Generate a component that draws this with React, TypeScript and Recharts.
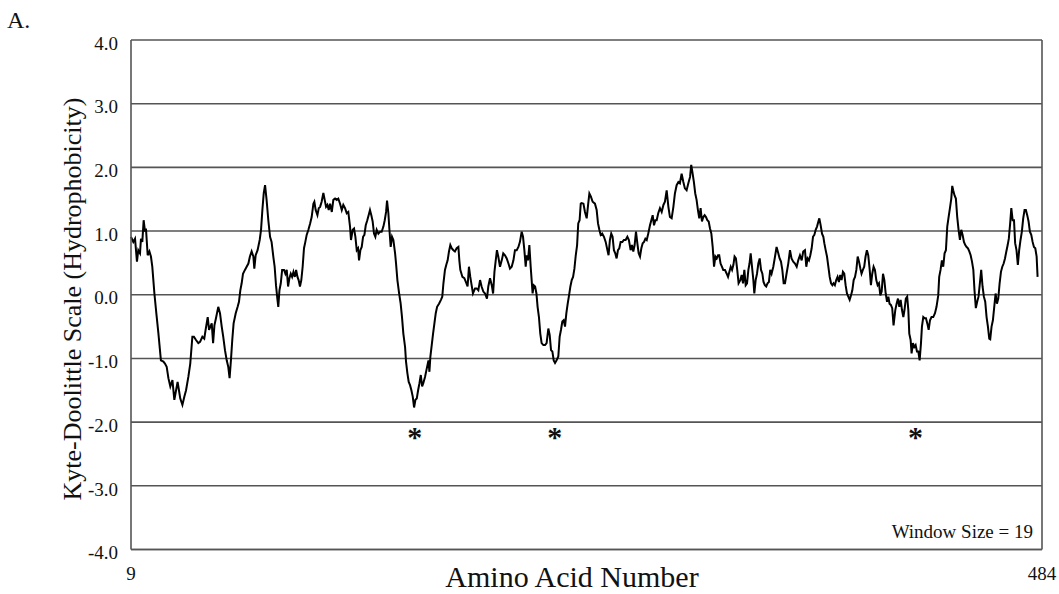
import React from "react"
import { LineChart, Line, XAxis, YAxis, CartesianGrid, ReferenceLine, ReferenceDot } from "recharts"

// residue positions (window centre) and Kyte-Doolittle scores
const residue = [
  9.0, 10.2, 11.1, 12.1, 12.8, 13.7, 14.2, 14.9, 15.6, 16.3, 16.8, 17.7, 18.6, 19.4, 20.1, 21.2, 22.2, 23.3, 24.6, 25.9,
  26.7, 27.6, 28.5, 29.5, 30.6, 31.6, 32.5, 33.3, 34.0, 34.7, 35.8, 36.8, 37.7, 38.9, 39.9, 41.0, 41.8, 42.9, 44.1, 45.0,
  46.2, 47.2, 47.9, 49.0, 49.7, 50.4, 51.1, 51.8, 52.5, 53.3, 54.5, 55.4, 56.3, 57.1, 58.0, 58.9, 59.7, 60.4, 61.1, 61.8,
  62.5, 63.6, 64.6, 65.3, 66.0, 66.7, 67.4, 68.4, 69.3, 70.2, 71.0, 71.9, 72.8, 73.3, 74.0, 75.0, 76.1, 76.8, 77.5, 78.2,
  78.9, 79.7, 80.6, 81.5, 82.3,
  83.2, 83.9, 84.6, 85.3, 85.8, 86.4, 87.1, 87.8, 88.8, 89.5, 90.2, 90.9, 91.6, 92.3, 93.0, 93.7, 94.4, 95.1, 95.8, 96.4,
  97.1, 97.8, 98.5, 99.2, 99.9, 100.6, 101.5, 102.4, 103.2, 104.1, 104.6, 105.3, 106.2, 106.9, 107.6, 108.4, 109.3, 110.0, 110.7, 111.4,
  112.1, 112.8, 113.7, 114.5, 115.4, 116.3, 117.1, 118.0, 118.9, 119.7, 120.6, 121.5, 122.3, 123.2, 123.7, 124.6, 125.3, 126.0, 126.7, 127.4,
  127.9, 128.6, 129.3, 130.0, 130.7, 131.4, 132.2, 132.9, 133.6, 134.3, 135.0, 135.7, 136.4, 137.1, 138.0, 138.9, 139.7, 140.6, 141.3, 142.0,
  142.5, 143.2, 143.7, 144.4, 145.1, 145.8, 146.7, 147.2, 147.9, 148.8, 149.6, 150.3, 151.0, 151.9, 152.4, 153.1, 153.8, 154.5, 155.2, 155.9,
  156.6, 157.3, 158.0, 158.7, 159.4, 160.1, 160.8, 161.4, 162.3, 163.2, 164.1,
  164.6, 165.1, 165.8, 166.5, 167.2, 167.9, 168.6, 169.6, 170.6, 171.3, 171.9, 172.7, 173.4, 174.1, 174.8, 175.5, 176.2, 177.1, 177.9, 178.8,
  179.7, 180.2, 180.7, 181.8, 182.8, 183.9, 184.5, 185.2, 185.9, 186.6, 187.3, 188.4, 189.2, 190.1, 191.0, 191.8, 192.7, 193.6, 194.6, 195.3,
  196.2, 197.1, 197.8, 198.5, 199.1, 199.8, 200.5, 201.4, 202.3, 203.1, 204.0, 204.9, 205.8, 206.6, 207.5, 208.4, 209.2, 210.1, 211.0, 211.8,
  212.7, 213.4, 214.1, 214.8, 215.3, 216.0, 216.7, 217.4, 217.9, 218.4, 219.0, 219.7, 220.4, 221.0, 221.7, 222.4, 223.1, 224.0, 224.9, 225.7,
  226.6, 227.3, 228.0, 228.7, 229.4, 230.1, 230.9, 231.8, 232.5, 233.2, 233.9, 234.6, 235.3, 236.0, 236.7, 237.4, 238.1, 238.8, 239.5, 240.2,
  240.9, 241.6, 242.2, 242.9, 243.5, 244.0, 244.9, 245.7,
  246.6, 247.4, 248.0, 248.8, 249.7, 250.9, 251.8, 252.5, 253.2, 253.9, 254.7, 255.6, 256.5, 257.4, 258.0, 258.7, 259.4, 260.1, 260.8, 261.5,
  262.2, 262.9, 263.6, 264.3, 265.2, 266.0, 266.9, 267.8, 268.6, 269.5, 270.2, 270.9, 271.6, 272.3, 273.0, 273.7, 274.4, 275.1, 275.8, 276.5,
  277.2, 277.9, 278.7, 279.6, 280.3, 281.0, 281.7, 282.4, 283.1, 283.9, 284.8, 285.7, 286.6, 287.4, 288.3, 289.2, 290.0, 290.9, 291.8, 292.6,
  293.5, 294.4, 295.2, 296.1, 297.0, 297.8, 298.7, 299.6, 300.5, 301.1, 301.7, 302.5, 303.2, 303.9, 304.6, 305.3, 306.0, 306.7, 307.4, 308.1,
  308.8, 309.5, 310.2, 310.9, 311.6, 312.3, 313.0, 313.7, 314.4, 315.1, 315.7, 316.4, 317.1, 317.8, 318.7, 319.6, 320.3, 321.0, 321.7, 322.4,
  323.1, 323.7, 324.4, 325.1, 325.8,
  326.7, 327.4, 328.1, 328.8, 329.5, 330.2, 330.9, 331.5, 332.1, 332.8, 333.5, 334.0, 334.7, 335.4, 336.1, 336.8, 337.5, 338.2, 338.8, 339.5,
  340.2, 340.9, 341.6, 342.3, 343.0, 343.9, 344.8, 345.6, 346.5, 347.2, 347.9, 348.6, 349.3, 350.0, 350.8, 351.7, 352.6, 353.4, 354.3, 355.2,
  356.1, 356.9, 357.8, 358.7, 359.5, 360.4, 361.1, 361.8, 362.5, 363.2, 363.9, 364.6, 365.3, 366.0, 366.7, 367.4, 367.9, 368.6, 369.3, 370.0,
  370.5, 371.2, 371.9, 372.6, 373.3, 374.0, 374.7, 375.3, 376.0, 376.7, 377.4, 378.1, 378.8, 379.5, 380.2, 380.9, 381.6, 382.3, 383.0, 383.7,
  384.4, 385.1, 385.8, 386.5, 387.2, 387.9, 388.6, 389.3, 389.9, 390.6, 391.3, 392.0, 392.7, 393.4, 394.1, 394.8, 395.5, 396.2, 396.9, 397.6,
  398.3, 399.0, 399.7, 400.4, 401.1, 401.8, 402.5, 403.2, 403.9, 404.5, 405.2, 405.9, 406.6,
  407.5, 408.2, 408.9, 409.6, 410.3, 411.0, 411.7, 412.3, 413.0, 413.7, 414.3, 414.8, 415.5, 416.0, 416.7, 417.4, 418.1, 418.8, 419.5, 420.2,
  420.9, 421.4, 422.1, 422.8, 423.5, 424.2, 424.9, 425.6, 426.4, 427.3, 428.2, 429.0, 429.9, 430.4, 431.1, 431.8, 432.5, 433.2, 433.9, 434.6,
  435.3, 436.0, 436.7, 437.2, 437.7, 438.4, 439.1, 439.8, 440.5, 441.2, 441.9, 442.6, 443.3, 444.0, 444.7, 445.4, 446.1, 446.8, 447.5, 448.2,
  448.8, 449.5, 450.2, 450.9, 451.6, 452.3, 453.0, 453.7, 454.4, 455.1, 455.8, 456.5, 457.0, 457.7, 458.4, 459.1, 459.8, 460.5, 461.2, 461.9,
  462.6, 463.3, 464.0, 464.7, 465.4, 466.1, 466.7, 467.4, 468.0, 468.7, 469.4, 470.0, 470.7, 471.4, 472.1, 472.8, 473.5, 474.2, 474.9, 475.6,
  476.3, 477.0, 477.7, 478.4, 479.1, 479.8, 480.5, 481.2, 481.7,
]

const score = [
  0.91, 0.83, 0.88, 0.52, 0.70, 0.65, 0.88, 0.83, 1.17, 0.99, 1.04, 0.62, 0.68, 0.60, 0.44, 0.02, -0.29, -0.61, -1.03, -1.05,
  -1.08, -1.13, -1.31, -1.44, -1.34, -1.65, -1.50, -1.37, -1.50, -1.63, -1.73, -1.60, -1.50, -1.29, -1.08, -0.66, -0.66, -0.71, -0.76, -0.74,
  -0.66, -0.69, -0.55, -0.35, -0.55, -0.50, -0.45, -0.76, -0.48, -0.37, -0.19, -0.29, -0.50, -0.66, -0.87, -1.03, -1.13, -1.31, -1.03, -0.71,
  -0.45, -0.29, -0.19, -0.11, 0.07, 0.18, 0.33, 0.39, 0.44, 0.49, 0.60, 0.68, 0.60, 0.41, 0.62, 0.70, 0.86, 1.02, 1.33, 1.59,
  1.72, 1.49, 1.17, 0.91, 0.83,
  0.60, 0.44, 0.15, -0.06, -0.19, 0.07, 0.18, 0.39, 0.39, 0.33, 0.39, 0.13, 0.26, 0.33, 0.28, 0.36, 0.28, 0.39, 0.28, 0.23,
  0.13, 0.23, 0.44, 0.73, 0.83, 0.94, 1.02, 1.12, 1.22, 1.43, 1.46, 1.33, 1.25, 1.36, 1.38, 1.46, 1.60, 1.49, 1.38, 1.41,
  1.33, 1.43, 1.30, 1.49, 1.51, 1.49, 1.51, 1.43, 1.33, 1.41, 1.36, 1.28, 1.30, 1.07, 0.86, 1.02, 1.04, 0.91, 0.70, 0.73,
  0.54, 0.70, 0.75, 0.91, 0.94, 1.09, 1.17, 1.25, 1.33, 1.25, 1.15, 0.96, 0.91, 1.02, 0.96, 0.99, 0.99, 1.07, 1.17, 1.30,
  1.48, 1.28, 1.04, 0.75, 0.91, 0.86, 0.65, 0.49, 0.23, 0.02, -0.14, -0.35, -0.61, -0.82, -1.05, -1.23, -1.37, -1.42, -1.50, -1.60,
  -1.77, -1.65, -1.63, -1.50, -1.39, -1.26, -1.44, -1.39, -1.29, -1.16, -1.03,
  -1.21, -0.97, -0.79, -0.61, -0.45, -0.29, -0.19, -0.14, -0.08, -0.03, 0.18, 0.39, 0.47, 0.54, 0.68, 0.78, 0.73, 0.70, 0.68, 0.73,
  0.75, 0.54, 0.39, 0.28, 0.26, 0.18, 0.13, 0.44, 0.28, 0.15, 0.02, 0.10, 0.10, 0.07, 0.23, 0.13, 0.05, 0.02, -0.06, 0.13,
  0.26, 0.15, 0.02, 0.36, 0.52, 0.70, 0.60, 0.44, 0.54, 0.65, 0.62, 0.57, 0.49, 0.41, 0.44, 0.54, 0.70, 0.70, 0.75, 0.83,
  0.99, 0.91, 0.70, 0.44, 0.62, 0.54, 0.78, 0.44, 0.23, 0.02, 0.15, 0.13, 0.02, -0.19, -0.35, -0.61, -0.76, -0.79, -0.79, -0.76,
  -0.53, -0.63, -0.87, -0.89, -1.03, -1.07, -1.03, -0.97, -0.66, -0.55, -0.42, -0.40, -0.50, -0.29, -0.14, -0.01, 0.13, 0.23, 0.28, 0.41,
  0.62, 0.78, 1.12, 1.17, 1.43, 1.44, 1.43, 1.30,
  1.20, 1.43, 1.59, 1.54, 1.46, 1.43, 1.33, 1.12, 1.02, 0.94, 0.96, 0.91, 0.83, 0.70, 0.62, 0.86, 0.96, 0.91, 0.70, 0.65,
  0.57, 0.70, 0.73, 0.83, 0.83, 0.86, 0.86, 0.91, 0.86, 0.70, 0.78, 0.68, 0.78, 0.99, 0.81, 0.65, 0.60, 0.73, 0.81, 0.83,
  0.88, 0.86, 0.96, 1.09, 1.17, 1.25, 1.09, 1.17, 1.17, 1.28, 1.36, 1.30, 1.41, 1.46, 1.64, 1.38, 1.22, 1.20, 1.38, 1.59,
  1.72, 1.77, 1.75, 1.90, 1.77, 1.67, 1.64, 1.75, 1.85, 2.04, 1.93, 1.77, 1.59, 1.49, 1.33, 1.20, 1.36, 1.15, 1.22, 1.25,
  1.22, 1.17, 1.15, 1.04, 0.96, 0.75, 0.44, 0.60, 0.57, 0.62, 0.62, 0.49, 0.44, 0.39, 0.39, 0.33, 0.28, 0.36, 0.44, 0.39,
  0.47, 0.60, 0.57, 0.39, 0.18,
  0.23, 0.31, 0.18, 0.39, 0.15, 0.18, 0.39, 0.49, 0.65, 0.44, 0.23, 0.02, 0.23, 0.33, 0.49, 0.57, 0.39, 0.33, 0.20, 0.15,
  0.13, 0.18, 0.20, 0.39, 0.33, 0.44, 0.60, 0.75, 0.65, 0.57, 0.52, 0.39, 0.18, 0.18, 0.33, 0.49, 0.70, 0.57, 0.52, 0.49,
  0.44, 0.54, 0.62, 0.54, 0.68, 0.70, 0.44, 0.57, 0.54, 0.62, 0.73, 0.91, 0.94, 1.02, 1.07, 1.15, 1.20, 1.09, 0.96, 0.91,
  0.81, 0.70, 0.60, 0.44, 0.28, 0.18, 0.15, 0.18, 0.15, 0.23, 0.28, 0.20, 0.31, 0.23, 0.36, 0.33, 0.15, 0.02, -0.03, -0.08,
  -0.01, 0.07, 0.23, 0.28, 0.39, 0.60, 0.52, 0.41, 0.33, 0.39, 0.44, 0.60, 0.70, 0.62, 0.41, 0.15, 0.33, 0.44, 0.39, 0.23,
  0.15, 0.18, -0.01, 0.05, 0.33, 0.23, 0.02, -0.11, -0.03, -0.14, -0.16, -0.21, -0.48,
  -0.24, -0.14, -0.06, -0.19, -0.08, -0.24, -0.35, -0.24, -0.06, -0.03, -0.24, -0.61, -0.71, -0.92, -0.76, -0.82, -0.79, -0.89, -0.89, -1.03,
  -0.76, -0.50, -0.35, -0.37, -0.37, -0.45, -0.55, -0.40, -0.35, -0.35, -0.29, -0.19, -0.01, 0.28, 0.39, 0.54, 0.44, 0.65, 0.70, 1.07,
  1.22, 1.36, 1.51, 1.71, 1.64, 1.56, 1.51, 1.22, 1.02, 0.86, 1.02, 0.94, 0.83, 0.78, 0.75, 0.73, 0.68, 0.62, 0.52, 0.39,
  0.07, -0.21, -0.11, -0.03, 0.18, 0.39, 0.13, -0.03, -0.11, -0.35, -0.50, -0.69, -0.70, -0.50, -0.40, -0.19, 0.02, -0.14, -0.06, 0.18,
  0.36, 0.44, 0.49, 0.57, 0.68, 0.78, 0.88, 1.12, 1.36, 1.17, 1.17, 0.81, 0.70, 0.47, 0.70, 0.86, 0.99, 1.20, 1.33, 1.33,
  1.25, 1.15, 0.99, 0.94, 0.83, 0.75, 0.73, 0.60, 0.28,
]

// residues flagged with an asterisk under the hydrophilic dips
const asteriskResidues = [157, 230, 418]
const asteriskLevel = -2.2

const xTicks = [9, 484]
const yTicks = [-4, -3, -2, -1, 0, 1, 2, 3, 4]

const data = residue.map((r, i) => ({ residue: r, score: score[i] }))

const serif = "'Liberation Serif', 'Times New Roman', serif"
const gridColor = "#555555"

export default function App() {
  return (
    <div style={{ position: "absolute", left: 0, top: 0, width: 1059, height: 594, background: "#fff", fontFamily: serif }}>
      <LineChart width={1059} height={594} data={data} margin={{ top: 40, right: 17, bottom: 14.5, left: 71 }}>
        <CartesianGrid vertical={false} stroke={gridColor} strokeWidth={1.6} />
        <XAxis
          dataKey="residue"
          type="number"
          domain={[9, 484]}
          ticks={xTicks}
          height={30}
          tickLine={false}
          tickSize={0}
          tickMargin={17}
          axisLine={{ stroke: gridColor, strokeWidth: 1.6 }}
          tick={{ fontSize: 19, fill: "#111", fontFamily: serif }}
        />
        <YAxis
          type="number"
          domain={[-4, 4]}
          ticks={yTicks}
          width={60}
          tickFormatter={(v: number) => v.toFixed(1)}
          tickLine={false}
          tickSize={0}
          tickMargin={13}
          axisLine={{ stroke: gridColor, strokeWidth: 1.6 }}
          tick={{ fontSize: 19, fill: "#111", fontFamily: serif, dy: 3 }}
        />
        <ReferenceLine x={484} stroke={gridColor} strokeWidth={1.6} />
        <Line
          type="linear"
          dataKey="score"
          stroke="#000"
          strokeWidth={2}
          dot={false}
          isAnimationActive={false}
        />
        {asteriskResidues.map((r) => (
          <ReferenceDot
            key={r}
            x={r}
            y={asteriskLevel}
            r={0}
            shape={(p: any) => (
              <text x={p.cx} y={p.cy} dy="0.4em" textAnchor="middle" fontSize={30} fontWeight="bold" fontFamily={serif} fill="#111">
                *
              </text>
            )}
          />
        ))}
      </LineChart>
      <svg width={1059} height={594} style={{ position: "absolute", left: 0, top: 0, pointerEvents: "none" }}>
        <text x={7} y={28} fontSize={24} fontFamily={serif} fill="#111">A.</text>
        <text
          transform="translate(81,299) rotate(-90)"
          textAnchor="middle"
          fontSize={26}
          fontFamily={serif}
          fill="#111"
        >
          Kyte-Doolittle Scale (Hydrophobicity)
        </text>
        <text x={572} y={587} textAnchor="middle" fontSize={30} fontFamily={serif} fill="#111">
          Amino Acid Number
        </text>
        <text x={1033} y={538} textAnchor="end" fontSize={19} fontFamily={serif} fill="#111">
          Window Size = 19
        </text>
      </svg>
    </div>
  )
}
